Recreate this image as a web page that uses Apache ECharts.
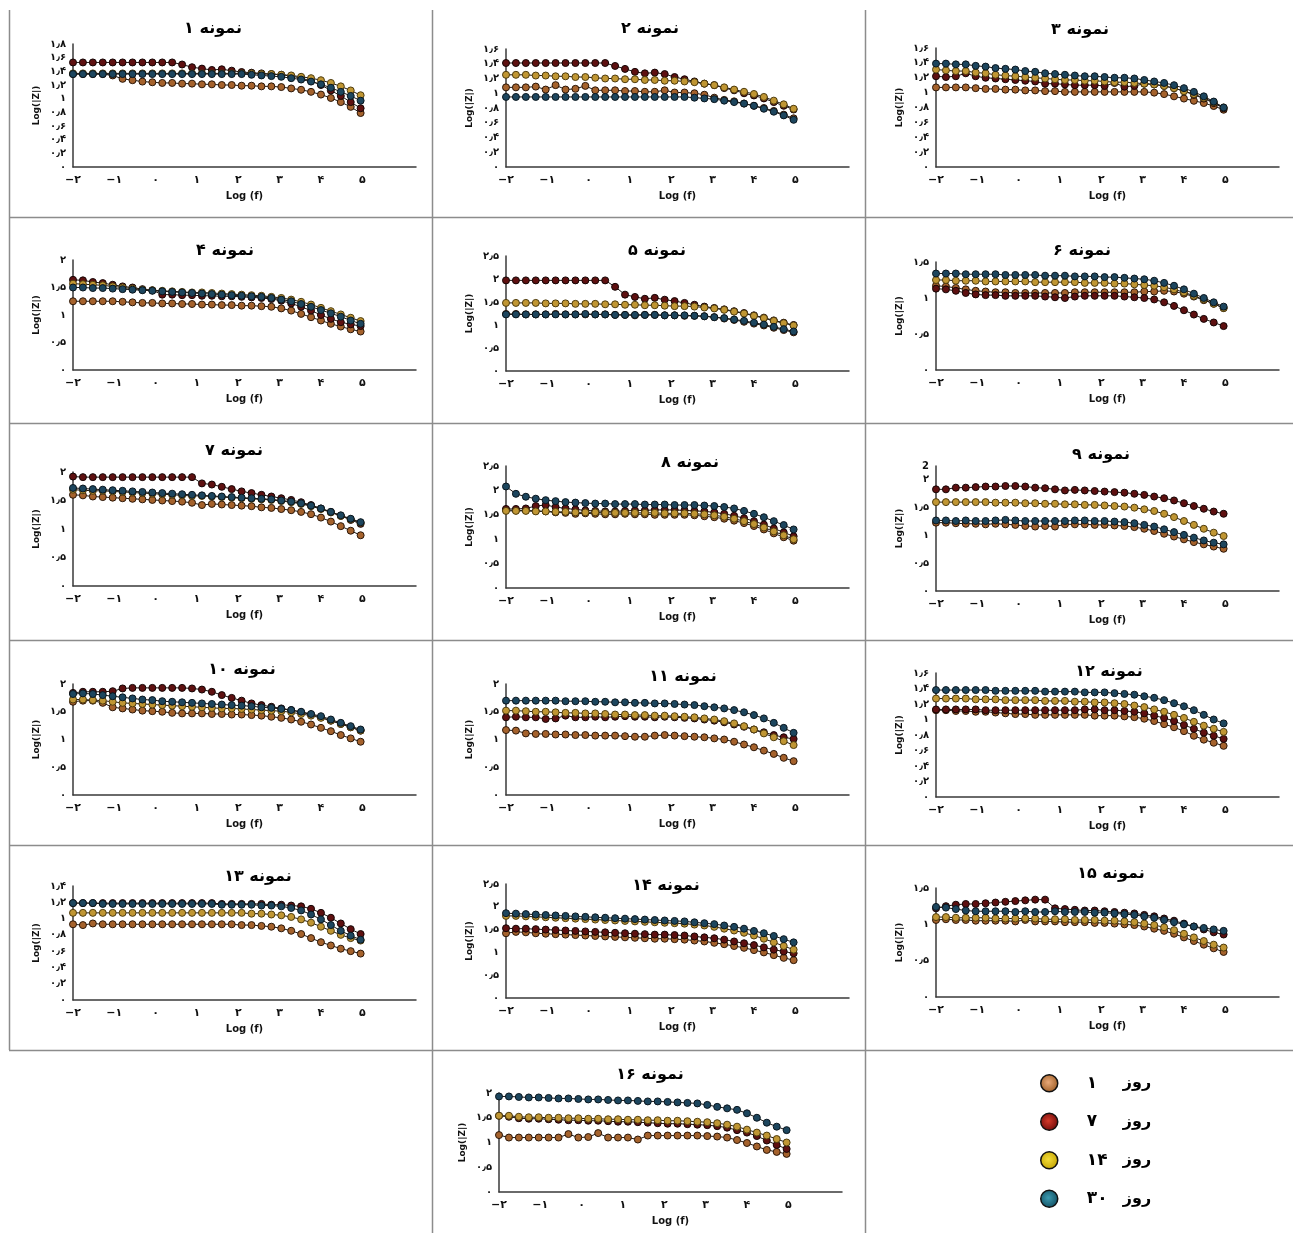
<!DOCTYPE html>
<html>
<head>
<meta charset="utf-8">
<title>Log(|Z|) - نمونه ۱ تا ۱۶</title>
<script src="https://cdn.jsdelivr.net/npm/echarts@6/dist/echarts.min.js"></script>
<style>
  html, body { margin: 0; padding: 0; background: #fff; }
  #chart { width: 1293px; height: 1233px; }
</style>
</head>
<body>
<div id="chart"></div>
<script>
// log(f) sampling shared by every panel
const logF = [-2, -1.76, -1.52, -1.28, -1.04, -0.8, -0.56, -0.32, -0.08, 0.16, 0.4, 0.64, 0.88, 1.12, 1.36,
  1.6, 1.84, 2.08, 2.32, 2.56, 2.8, 3.04, 3.28, 3.52, 3.76, 4, 4.24, 4.48, 4.72, 4.96];

const dayNames = ['روز ۱', 'روز ۷', 'روز ۱۴', 'روز ۳۰'];
const panelTitles = ['نمونه ۱', 'نمونه ۲', 'نمونه ۳', 'نمونه ۴', 'نمونه ۵', 'نمونه ۶', 'نمونه ۷', 'نمونه ۸',
  'نمونه ۹', 'نمونه ۱۰', 'نمونه ۱۱', 'نمونه ۱۲', 'نمونه ۱۳', 'نمونه ۱۴', 'نمونه ۱۵', 'نمونه ۱۶'];

// y axis ticks per panel
const yMax = [1.8, 1.6, 1.6, 2, 2.5, 1.5, 2, 2.5, 2.25, 2, 2, 1.6, 1.4, 2.5, 1.5, 2];
const yStep = [0.2, 0.2, 0.2, 0.5, 0.5, 0.5, 0.5, 0.5, 0.5, 0.5, 0.5, 0.2, 0.2, 0.5, 0.5, 0.5];
const yTopText = {8: '2'}; // panel 9 has a stray latin "2" at the top of its axis

// Log(|Z|) values, panel by panel (d1 = day 1, d7 = day 7, ...)
const p01d1 = [1.36,1.36,1.36,1.36,1.34,1.29,1.27,1.25,1.24,1.23,1.23,1.22,1.22,1.21,1.21,1.20,1.20,1.19,1.19,1.18,1.18,1.17,1.15,1.13,1.10,1.06,1.01,0.95,0.88,0.79];
const p01d7 = [1.53,1.53,1.53,1.53,1.53,1.53,1.53,1.53,1.53,1.53,1.53,1.50,1.46,1.44,1.42,1.43,1.41,1.39,1.38,1.37,1.36,1.35,1.33,1.30,1.26,1.20,1.12,1.04,0.95,0.86];
const p01d14 = [1.37,1.37,1.37,1.37,1.37,1.37,1.37,1.37,1.37,1.37,1.37,1.37,1.37,1.37,1.37,1.37,1.37,1.37,1.37,1.36,1.36,1.35,1.34,1.32,1.30,1.27,1.23,1.18,1.12,1.05];
const p01d30 = [1.36,1.36,1.36,1.36,1.36,1.36,1.36,1.36,1.36,1.36,1.36,1.36,1.36,1.36,1.36,1.36,1.36,1.36,1.35,1.34,1.33,1.32,1.30,1.28,1.25,1.21,1.16,1.10,1.04,0.97];

const p02d1 = [1.08,1.08,1.08,1.09,1.05,1.11,1.05,1.06,1.10,1.04,1.04,1.04,1.03,1.03,1.02,1.02,1.04,1.01,1.01,1.00,0.98,0.94,0.91,0.89,0.86,0.83,0.80,0.76,0.71,0.66];
const p02d7 = [1.41,1.41,1.41,1.41,1.41,1.41,1.41,1.41,1.41,1.41,1.41,1.37,1.33,1.29,1.27,1.28,1.26,1.22,1.19,1.16,1.13,1.11,1.07,1.04,1.00,0.97,0.93,0.88,0.83,0.78];
const p02d14 = [1.25,1.25,1.25,1.24,1.24,1.23,1.23,1.22,1.22,1.21,1.20,1.20,1.19,1.19,1.18,1.18,1.17,1.17,1.16,1.15,1.13,1.11,1.08,1.05,1.02,0.99,0.95,0.90,0.85,0.79];
const p02d30 = [0.95,0.95,0.95,0.95,0.95,0.95,0.95,0.95,0.95,0.95,0.95,0.95,0.95,0.95,0.95,0.95,0.95,0.95,0.95,0.94,0.93,0.92,0.90,0.88,0.86,0.83,0.79,0.75,0.70,0.64];

const p03d1 = [1.07,1.07,1.07,1.07,1.06,1.05,1.05,1.04,1.04,1.03,1.03,1.02,1.02,1.01,1.01,1.01,1.01,1.01,1.01,1.01,1.01,1.01,1.00,0.98,0.95,0.92,0.89,0.86,0.82,0.77];
const p03d7 = [1.22,1.21,1.22,1.26,1.22,1.20,1.19,1.18,1.17,1.16,1.15,1.12,1.12,1.11,1.10,1.10,1.10,1.09,1.13,1.08,1.09,1.12,1.11,1.09,1.06,1.02,0.97,0.92,0.86,0.79];
const p03d14 = [1.31,1.30,1.29,1.29,1.27,1.26,1.24,1.23,1.22,1.21,1.20,1.19,1.18,1.17,1.17,1.16,1.16,1.15,1.14,1.14,1.13,1.12,1.11,1.09,1.06,1.02,0.98,0.93,0.87,0.80];
const p03d30 = [1.39,1.39,1.38,1.38,1.36,1.35,1.33,1.32,1.31,1.29,1.28,1.26,1.25,1.24,1.23,1.22,1.22,1.21,1.20,1.20,1.19,1.17,1.15,1.13,1.10,1.06,1.01,0.95,0.88,0.80];

const p04d1 = [1.25,1.25,1.25,1.25,1.25,1.24,1.23,1.22,1.22,1.21,1.21,1.20,1.20,1.19,1.19,1.18,1.18,1.17,1.17,1.16,1.15,1.12,1.08,1.02,0.96,0.90,0.84,0.79,0.74,0.70];
const p04d7 = [1.64,1.63,1.60,1.58,1.55,1.52,1.50,1.47,1.45,1.37,1.37,1.36,1.36,1.35,1.35,1.34,1.34,1.33,1.32,1.31,1.29,1.26,1.21,1.15,1.08,1.00,0.93,0.87,0.83,0.80];
const p04d14 = [1.57,1.56,1.55,1.54,1.52,1.50,1.48,1.46,1.45,1.44,1.43,1.42,1.41,1.41,1.40,1.39,1.38,1.37,1.36,1.35,1.33,1.31,1.28,1.24,1.19,1.13,1.07,1.01,0.95,0.89];
const p04d30 = [1.50,1.50,1.49,1.49,1.48,1.47,1.46,1.45,1.44,1.43,1.42,1.41,1.40,1.39,1.38,1.37,1.36,1.35,1.34,1.33,1.31,1.28,1.25,1.20,1.15,1.09,1.03,0.97,0.90,0.84];

const p05d1 = [1.24,1.24,1.23,1.23,1.23,1.24,1.23,1.23,1.23,1.23,1.23,1.22,1.22,1.21,1.22,1.22,1.21,1.21,1.20,1.20,1.19,1.17,1.14,1.11,1.07,1.03,0.99,0.94,0.89,0.84];
const p05d7 = [1.97,1.97,1.97,1.97,1.97,1.97,1.97,1.97,1.97,1.97,1.97,1.83,1.66,1.61,1.57,1.59,1.55,1.52,1.48,1.44,1.40,1.37,1.34,1.30,1.26,1.21,1.16,1.10,1.05,1.00];
const p05d14 = [1.48,1.48,1.48,1.48,1.47,1.47,1.47,1.46,1.46,1.46,1.45,1.45,1.44,1.44,1.43,1.43,1.42,1.41,1.41,1.40,1.38,1.36,1.33,1.29,1.25,1.20,1.15,1.09,1.04,0.99];
const p05d30 = [1.23,1.23,1.23,1.23,1.23,1.23,1.23,1.23,1.24,1.23,1.23,1.22,1.22,1.22,1.22,1.22,1.21,1.21,1.21,1.20,1.19,1.17,1.15,1.12,1.09,1.05,1.01,0.96,0.91,0.86];

const p06d1 = [1.17,1.16,1.14,1.12,1.10,1.09,1.08,1.08,1.07,1.07,1.07,1.07,1.07,1.07,1.08,1.08,1.08,1.08,1.08,1.08,1.08,1.09,1.09,1.10,1.09,1.06,1.02,0.97,0.92,0.86];
const p06d7 = [1.13,1.12,1.10,1.07,1.05,1.04,1.04,1.03,1.03,1.03,1.03,1.02,1.01,1.00,1.02,1.03,1.03,1.03,1.03,1.02,1.01,1.00,0.98,0.94,0.89,0.83,0.77,0.71,0.66,0.61];
const p06d14 = [1.25,1.25,1.24,1.24,1.24,1.23,1.23,1.23,1.23,1.23,1.22,1.22,1.22,1.22,1.22,1.21,1.21,1.21,1.20,1.20,1.19,1.18,1.17,1.15,1.12,1.08,1.03,0.98,0.92,0.86];
const p06d30 = [1.34,1.34,1.34,1.33,1.33,1.33,1.33,1.32,1.32,1.32,1.32,1.31,1.31,1.31,1.30,1.30,1.30,1.29,1.29,1.28,1.27,1.26,1.24,1.21,1.17,1.12,1.06,1.00,0.94,0.88];

const p07d1 = [1.60,1.59,1.57,1.56,1.55,1.54,1.53,1.52,1.51,1.50,1.49,1.48,1.46,1.42,1.44,1.43,1.42,1.41,1.40,1.38,1.37,1.35,1.33,1.30,1.26,1.20,1.13,1.05,0.97,0.89];
const p07d7 = [1.92,1.91,1.91,1.91,1.91,1.91,1.91,1.91,1.91,1.91,1.91,1.91,1.91,1.80,1.78,1.74,1.70,1.66,1.63,1.60,1.57,1.54,1.51,1.47,1.42,1.36,1.30,1.23,1.16,1.09];
const p07d14 = [1.69,1.68,1.67,1.67,1.66,1.65,1.64,1.63,1.62,1.61,1.60,1.59,1.58,1.58,1.57,1.56,1.55,1.54,1.53,1.52,1.51,1.49,1.47,1.44,1.40,1.35,1.29,1.23,1.17,1.11];
const p07d30 = [1.72,1.71,1.70,1.69,1.68,1.67,1.66,1.65,1.64,1.63,1.62,1.61,1.60,1.59,1.58,1.57,1.56,1.55,1.54,1.53,1.52,1.50,1.48,1.45,1.41,1.36,1.30,1.24,1.18,1.12];

const p08d1 = [1.60,1.59,1.59,1.58,1.57,1.55,1.54,1.52,1.53,1.52,1.51,1.51,1.52,1.51,1.51,1.50,1.50,1.50,1.50,1.49,1.47,1.45,1.42,1.38,1.33,1.27,1.20,1.12,1.04,0.97];
const p08d7 = [1.62,1.62,1.63,1.68,1.70,1.66,1.63,1.61,1.59,1.58,1.57,1.57,1.58,1.59,1.59,1.60,1.60,1.60,1.59,1.58,1.57,1.55,1.52,1.48,1.43,1.37,1.30,1.22,1.14,1.06];
const p08d14 = [1.58,1.58,1.58,1.57,1.57,1.56,1.56,1.55,1.55,1.55,1.54,1.54,1.54,1.54,1.54,1.54,1.53,1.53,1.53,1.52,1.51,1.49,1.46,1.42,1.37,1.31,1.24,1.16,1.08,1.00];
const p08d30 = [2.08,1.93,1.87,1.83,1.80,1.78,1.76,1.75,1.74,1.73,1.73,1.72,1.72,1.72,1.71,1.71,1.71,1.70,1.70,1.70,1.69,1.68,1.66,1.63,1.58,1.52,1.45,1.37,1.29,1.20];

const p09d1 = [1.23,1.23,1.22,1.21,1.21,1.20,1.21,1.20,1.19,1.17,1.16,1.17,1.16,1.20,1.20,1.20,1.19,1.19,1.18,1.17,1.15,1.12,1.08,1.03,0.98,0.93,0.88,0.84,0.80,0.76];
const p09d7 = [1.83,1.83,1.86,1.86,1.87,1.88,1.88,1.89,1.89,1.88,1.86,1.85,1.83,1.81,1.82,1.81,1.80,1.79,1.78,1.77,1.75,1.73,1.70,1.67,1.63,1.58,1.53,1.48,1.43,1.39];
const p09d14 = [1.60,1.60,1.60,1.60,1.60,1.60,1.59,1.59,1.59,1.58,1.58,1.57,1.57,1.56,1.56,1.55,1.55,1.54,1.53,1.52,1.50,1.47,1.44,1.39,1.33,1.26,1.19,1.12,1.05,0.99];
const p09d30 = [1.27,1.27,1.26,1.27,1.26,1.26,1.27,1.28,1.27,1.26,1.26,1.26,1.26,1.26,1.27,1.27,1.26,1.26,1.25,1.24,1.22,1.19,1.16,1.11,1.06,1.01,0.96,0.91,0.87,0.84];

const p10d1 = [1.68,1.70,1.70,1.66,1.58,1.56,1.54,1.52,1.51,1.50,1.48,1.47,1.47,1.47,1.46,1.46,1.45,1.45,1.44,1.43,1.41,1.39,1.36,1.32,1.27,1.21,1.15,1.08,1.02,0.96];
const p10d7 = [1.84,1.86,1.86,1.86,1.87,1.92,1.93,1.93,1.93,1.93,1.93,1.93,1.92,1.90,1.86,1.80,1.75,1.70,1.65,1.62,1.59,1.56,1.53,1.49,1.45,1.40,1.34,1.28,1.22,1.16];
const p10d14 = [1.72,1.72,1.71,1.70,1.68,1.66,1.65,1.64,1.63,1.62,1.61,1.60,1.59,1.58,1.57,1.56,1.56,1.55,1.54,1.53,1.52,1.51,1.49,1.46,1.43,1.39,1.34,1.28,1.22,1.16];
const p10d30 = [1.82,1.83,1.82,1.80,1.78,1.76,1.74,1.72,1.71,1.69,1.68,1.67,1.66,1.65,1.64,1.63,1.62,1.61,1.60,1.58,1.57,1.55,1.53,1.50,1.46,1.42,1.36,1.30,1.24,1.18];

const p11d1 = [1.17,1.16,1.11,1.10,1.10,1.09,1.09,1.08,1.08,1.07,1.07,1.07,1.06,1.05,1.05,1.07,1.08,1.07,1.06,1.05,1.04,1.02,1.00,0.96,0.91,0.86,0.80,0.74,0.67,0.61];
const p11d7 = [1.40,1.41,1.40,1.40,1.37,1.38,1.43,1.40,1.40,1.41,1.40,1.41,1.42,1.41,1.41,1.40,1.41,1.40,1.39,1.38,1.36,1.34,1.31,1.27,1.23,1.18,1.13,1.08,1.04,1.01];
const p11d14 = [1.52,1.52,1.51,1.50,1.50,1.49,1.48,1.48,1.47,1.47,1.46,1.45,1.45,1.44,1.44,1.43,1.43,1.42,1.41,1.40,1.38,1.36,1.33,1.29,1.24,1.18,1.11,1.04,0.97,0.90];
const p11d30 = [1.70,1.70,1.70,1.70,1.70,1.70,1.69,1.69,1.69,1.68,1.68,1.67,1.67,1.66,1.66,1.65,1.65,1.64,1.63,1.62,1.60,1.58,1.56,1.53,1.49,1.44,1.38,1.30,1.21,1.12];

const p12d1 = [1.12,1.12,1.11,1.11,1.10,1.10,1.09,1.08,1.07,1.07,1.06,1.06,1.06,1.06,1.06,1.06,1.05,1.05,1.05,1.04,1.03,1.01,0.98,0.94,0.90,0.85,0.79,0.74,0.70,0.66];
const p12d7 = [1.13,1.13,1.13,1.13,1.13,1.12,1.12,1.12,1.12,1.12,1.12,1.12,1.12,1.12,1.12,1.13,1.13,1.12,1.12,1.11,1.10,1.08,1.05,1.02,0.98,0.93,0.88,0.83,0.79,0.75];
const p12d14 = [1.27,1.27,1.27,1.27,1.26,1.26,1.26,1.25,1.25,1.25,1.25,1.24,1.24,1.24,1.23,1.23,1.22,1.22,1.21,1.20,1.18,1.16,1.13,1.10,1.06,1.02,0.97,0.92,0.88,0.84];
const p12d30 = [1.38,1.38,1.38,1.38,1.38,1.38,1.37,1.37,1.37,1.37,1.37,1.36,1.36,1.36,1.36,1.35,1.35,1.35,1.34,1.33,1.32,1.30,1.28,1.25,1.21,1.17,1.12,1.06,1.00,0.95];

const p13d1 = [0.93,0.92,0.94,0.93,0.93,0.93,0.93,0.93,0.93,0.93,0.93,0.93,0.93,0.93,0.93,0.93,0.93,0.92,0.92,0.91,0.90,0.88,0.85,0.81,0.76,0.71,0.67,0.63,0.60,0.57];
const p13d7 = [1.19,1.19,1.19,1.19,1.19,1.19,1.19,1.19,1.19,1.19,1.19,1.19,1.19,1.19,1.19,1.18,1.18,1.18,1.18,1.18,1.17,1.17,1.16,1.15,1.12,1.07,1.01,0.94,0.87,0.81];
const p13d14 = [1.07,1.07,1.07,1.07,1.07,1.07,1.07,1.07,1.07,1.07,1.07,1.07,1.07,1.07,1.07,1.07,1.07,1.07,1.06,1.06,1.05,1.04,1.02,0.99,0.95,0.90,0.85,0.80,0.76,0.73];
const p13d30 = [1.19,1.19,1.19,1.18,1.18,1.18,1.18,1.18,1.18,1.18,1.18,1.18,1.18,1.18,1.18,1.17,1.17,1.17,1.17,1.16,1.16,1.15,1.13,1.10,1.05,0.99,0.92,0.85,0.79,0.74];

const p14d1 = [1.42,1.45,1.44,1.42,1.41,1.40,1.39,1.38,1.37,1.36,1.35,1.34,1.33,1.32,1.31,1.30,1.30,1.29,1.28,1.26,1.24,1.21,1.18,1.14,1.10,1.05,1.00,0.94,0.88,0.83];
const p14d7 = [1.53,1.52,1.52,1.51,1.50,1.49,1.48,1.47,1.46,1.45,1.44,1.43,1.42,1.41,1.40,1.39,1.39,1.38,1.37,1.35,1.33,1.31,1.28,1.24,1.20,1.16,1.11,1.06,1.02,0.98];
const p14d14 = [1.80,1.80,1.79,1.78,1.77,1.76,1.75,1.74,1.73,1.72,1.71,1.70,1.69,1.68,1.67,1.66,1.65,1.64,1.63,1.61,1.59,1.56,1.52,1.48,1.43,1.37,1.30,1.22,1.14,1.06];
const p14d30 = [1.86,1.85,1.84,1.83,1.82,1.81,1.80,1.79,1.78,1.77,1.76,1.75,1.74,1.73,1.72,1.71,1.70,1.69,1.68,1.66,1.64,1.62,1.59,1.56,1.52,1.47,1.42,1.36,1.29,1.22];

const p15d1 = [1.06,1.07,1.06,1.06,1.05,1.05,1.05,1.05,1.04,1.06,1.04,1.04,1.04,1.03,1.03,1.03,1.02,1.02,1.01,1.00,0.99,0.97,0.94,0.91,0.87,0.82,0.77,0.72,0.67,0.62];
const p15d7 = [1.22,1.25,1.27,1.28,1.28,1.29,1.30,1.31,1.32,1.33,1.34,1.34,1.22,1.21,1.20,1.19,1.19,1.18,1.17,1.16,1.15,1.13,1.11,1.08,1.05,1.01,0.97,0.93,0.89,0.86];
const p15d14 = [1.10,1.10,1.09,1.09,1.09,1.09,1.08,1.08,1.08,1.08,1.08,1.07,1.07,1.07,1.06,1.06,1.06,1.05,1.05,1.04,1.03,1.01,0.99,0.96,0.92,0.87,0.82,0.77,0.72,0.68];
const p15d30 = [1.24,1.23,1.21,1.19,1.18,1.18,1.18,1.18,1.17,1.18,1.17,1.17,1.18,1.17,1.17,1.17,1.16,1.16,1.15,1.14,1.13,1.11,1.09,1.06,1.03,1.00,0.97,0.95,0.93,0.91];

const p16d1 = [1.15,1.10,1.10,1.10,1.10,1.10,1.10,1.17,1.10,1.11,1.19,1.10,1.10,1.10,1.06,1.14,1.14,1.14,1.14,1.14,1.14,1.13,1.12,1.10,1.05,0.99,0.92,0.85,0.81,0.77];
const p16d7 = [1.54,1.52,1.49,1.48,1.48,1.47,1.46,1.45,1.45,1.44,1.44,1.43,1.42,1.42,1.41,1.40,1.39,1.38,1.38,1.37,1.36,1.35,1.33,1.30,1.25,1.20,1.13,1.04,0.95,0.87];
const p16d14 = [1.54,1.54,1.52,1.51,1.51,1.50,1.50,1.49,1.49,1.48,1.48,1.47,1.47,1.46,1.46,1.45,1.45,1.44,1.44,1.43,1.42,1.41,1.39,1.36,1.32,1.26,1.20,1.14,1.07,1.00];
const p16d30 = [1.93,1.93,1.92,1.91,1.91,1.90,1.89,1.89,1.88,1.87,1.87,1.86,1.85,1.85,1.84,1.83,1.83,1.82,1.81,1.80,1.79,1.76,1.72,1.69,1.66,1.59,1.50,1.40,1.32,1.25];

const panelSeries = [
  [p01d1, p01d7, p01d14, p01d30], [p02d1, p02d7, p02d14, p02d30], [p03d1, p03d7, p03d14, p03d30],
  [p04d1, p04d7, p04d14, p04d30], [p05d1, p05d7, p05d14, p05d30], [p06d1, p06d7, p06d14, p06d30],
  [p07d1, p07d7, p07d14, p07d30], [p08d1, p08d7, p08d14, p08d30], [p09d1, p09d7, p09d14, p09d30],
  [p10d1, p10d7, p10d14, p10d30], [p11d1, p11d7, p11d14, p11d30], [p12d1, p12d7, p12d14, p12d30],
  [p13d1, p13d7, p13d14, p13d30], [p14d1, p14d7, p14d14, p14d30], [p15d1, p15d7, p15d14, p15d30],
  [p16d1, p16d7, p16d14, p16d30]
];

// ---- layout (pixels) ----
// [y-axis x, y of axis max, y of x-axis line]
const panelBox = [
  [73, 44, 167], [506, 49, 167], [936, 48, 167],
  [73, 260, 370], [506, 256, 371], [936, 262, 370],
  [73, 472, 586], [506, 466, 588], [936, 466, 591],
  [73, 684, 795], [506, 684, 795], [936, 673, 797],
  [73, 886, 1000], [506, 884, 998], [936, 888, 997],
  [499, 1093, 1192]
];
const titlePos = [[213, 29], [650, 29], [1080, 30], [225, 251], [657, 251], [1082, 251],
  [234, 451], [690, 463], [1101, 455], [242, 670], [683, 677], [1109, 672],
  [258, 877], [666, 886], [1111, 874], [650, 1075]];
const plotWidth = 343;
const X_MIN = -2, X_MAX = 6.3;

// marker colours in the plots (dark, as printed) and brighter legend balls
const dayColors = ['#a5622c', '#5e1010', '#c09633', '#1d465e'];
const dayBorders = ['#2a1608', '#140505', '#4e3c0e', '#0a161e'];
const legendLight = ['#e8a878', '#d43a2a', '#f3dc3a', '#3c9ab0'];
const legendDark = ['#9a5a22', '#6a0808', '#c0a000', '#0e4a5c'];
const FONT = 'DejaVu Sans';

const faDigits = '۰۱۲۳۴۵۶۷۸۹';
function toFa(v) {
  const s = String(Math.round(v * 100) / 100);
  return s.replace('-', '−').replace('.', '٫').replace(/\d/g, d => faDigits[d]);
}

const grids = [], xAxes = [], yAxes = [], series = [];
panelBox.forEach((b, p) => {
  grids.push({left: b[0], top: b[1], width: plotWidth, height: b[2] - b[1]});
  xAxes.push({
    type: 'value', gridIndex: p, min: X_MIN, max: X_MAX, interval: 1,
    name: 'Log (f)', nameLocation: 'middle', nameGap: 24,
    nameTextStyle: {fontFamily: FONT, fontSize: 10, fontWeight: 'bold', color: '#111'},
    axisLine: {onZero: false, lineStyle: {color: '#3a3a3a', width: 1.5}},
    axisTick: {show: false},
    splitLine: {show: false},
    axisLabel: {
      fontFamily: FONT, fontSize: 11, fontWeight: 'bold', color: '#111', margin: 8,
      formatter: v => (v > 5.01 ? '' : toFa(v))
    }
  });
  yAxes.push({
    type: 'value', gridIndex: p, min: 0, max: yMax[p], interval: yStep[p],
    name: 'Log(|Z|)', nameLocation: 'middle', nameGap: 32, nameRotate: 90,
    nameTextStyle: {fontFamily: FONT, fontSize: 9, fontWeight: 'bold', color: '#111'},
    axisLine: {show: true, onZero: false, lineStyle: {color: '#3a3a3a', width: 1.5}},
    axisTick: {show: false},
    splitLine: {show: false},
    axisLabel: {
      fontFamily: FONT, fontSize: 10, fontWeight: 'bold', color: '#111', margin: 7,
      formatter: v => {
        const r = Math.round(v / yStep[p]) * yStep[p];
        if (Math.abs(r - v) > 1e-6) return yTopText[p] || '';
        return toFa(v);
      }
    }
  });
  panelSeries[p].forEach((vals, d) => {
    series.push({
      name: dayNames[d], type: 'line', xAxisIndex: p, yAxisIndex: p,
      data: logF.map((x, i) => [x, vals[i]]),
      symbol: 'circle', symbolSize: 7, showSymbol: true,
      lineStyle: {color: '#1e1814', width: 1},
      itemStyle: {color: dayColors[d], borderColor: dayBorders[d], borderWidth: 1},
      emphasis: {disabled: true},
      z: 2 + d
    });
  });
});

// cell borders and panel titles
const borderStyle = {stroke: '#8c8c8c', lineWidth: 1.5};
const graphic = [
  {type: 'line', shape: {x1: 9.5, y1: 10, x2: 9.5, y2: 1050}, style: borderStyle},
  {type: 'line', shape: {x1: 432.5, y1: 10, x2: 432.5, y2: 1233}, style: borderStyle},
  {type: 'line', shape: {x1: 865.5, y1: 10, x2: 865.5, y2: 1233}, style: borderStyle}
];
[217, 423, 640, 845, 1050].forEach(y => {
  graphic.push({type: 'line', shape: {x1: 9, y1: y + 0.5, x2: 1293, y2: y + 0.5}, style: borderStyle});
});
panelTitles.forEach((t, p) => {
  graphic.push({
    type: 'text', x: titlePos[p][0], y: titlePos[p][1],
    style: {text: t, fontFamily: FONT, fontSize: 16, fontWeight: 'bold', fill: '#000',
      align: 'center', verticalAlign: 'middle'}
  });
});

const chart = echarts.init(document.getElementById('chart'), null, {renderer: 'canvas'});
chart.setOption({
  animation: false,
  backgroundColor: '#fff',
  grid: grids,
  xAxis: xAxes,
  yAxis: yAxes,
  legend: {
    data: dayNames.map((n, d) => ({
      name: n,
      itemStyle: {
        color: {type: 'radial', x: 0.45, y: 0.45, r: 0.6, colorStops: [
          {offset: 0, color: legendLight[d]}, {offset: 1, color: legendDark[d]}]},
        borderColor: '#111', borderWidth: 1.5
      }
    })),
    orient: 'vertical',
    left: 1035, top: 1069,
    icon: 'circle',
    itemWidth: 17, itemHeight: 17, itemGap: 20,
    selectedMode: false,
    formatter: name => '{num|' + name.split(' ')[1] + '}{word|روز}',
    textStyle: {
      fontFamily: FONT, fontSize: 17, color: '#000',
      rich: {
        num: {fontFamily: FONT, fontSize: 17, fontWeight: 'bold', width: 36, padding: [0, 0, 0, 24]},
        word: {fontFamily: FONT, fontSize: 16, fontWeight: 'bold'}
      }
    }
  },
  series: series,
  graphic: graphic
});
</script>
</body>
</html>
